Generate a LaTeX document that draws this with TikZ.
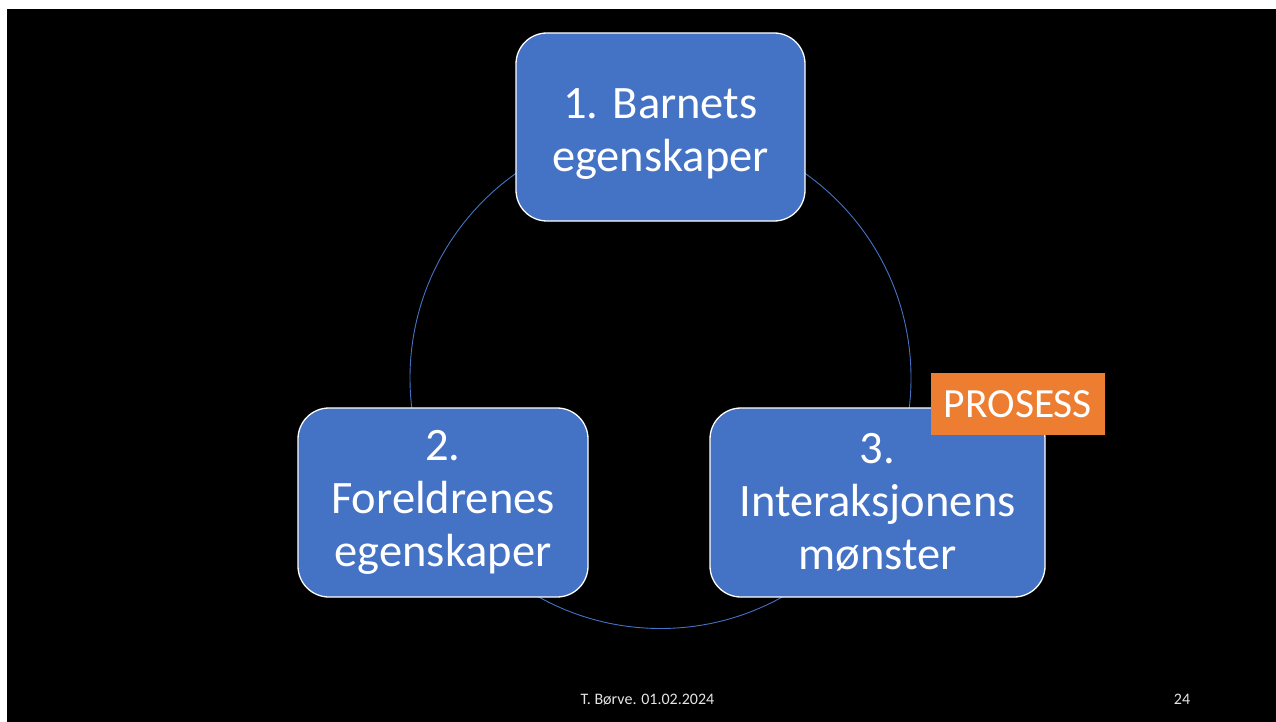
\documentclass[tikz,border=0pt]{standalone}
\usepackage{fontspec}
\setmainfont{Carlito}
\definecolor{accblue}{HTML}{4472C4}
\definecolor{accorange}{HTML}{ED7D31}
\begin{document}
\begin{tikzpicture}[x=1pt,y=-1pt,
  boxstyle/.style={draw=white, line width=1.3pt, fill=accblue, rounded corners=31pt,
    text=white, align=center, inner sep=0pt,
    font=\fontsize{46.5}{53}\selectfont},
  tagstyle/.style={fill=accorange, text=white, inner sep=0pt,
    font=\fontsize{41.5}{46}\selectfont},
  footstyle/.style={text=white!90!black, inner sep=0pt, font=\fontsize{16}{18}\selectfont}]
\useasboundingbox (0,0) rectangle (1276,722);
\fill[white] (0,0) rectangle (1276,722);
\fill[black] (7,9) rectangle (1276,722);
\coordinate (c) at (660.5,378);
\draw[accblue, line width=0.9pt] (c) circle[radius=250.5];
\node[boxstyle, minimum width=289pt, minimum height=188pt] (b1) at (660.5,127) {\rule{0pt}{43pt}1. Barnets\\egenskaper};
\node[boxstyle, minimum width=290pt, minimum height=189pt] (b2) at (443,502.5) {2.\\Foreldrenes\\egenskaper};
\node[boxstyle, minimum width=335pt, minimum height=189pt] (b3) at (877.5,502.5) {3.\\Interaksjonens\\mønster};
\node[tagstyle, minimum width=174pt, minimum height=62pt] (tag) at (1018,404) {PROSESS};
\node[footstyle, anchor=base] (foot) at (647.5,704) {T. Børve. 01.02.2024};
\node[footstyle, anchor=base] (page) at (1182,704) {24};
\end{tikzpicture}
\end{document}
